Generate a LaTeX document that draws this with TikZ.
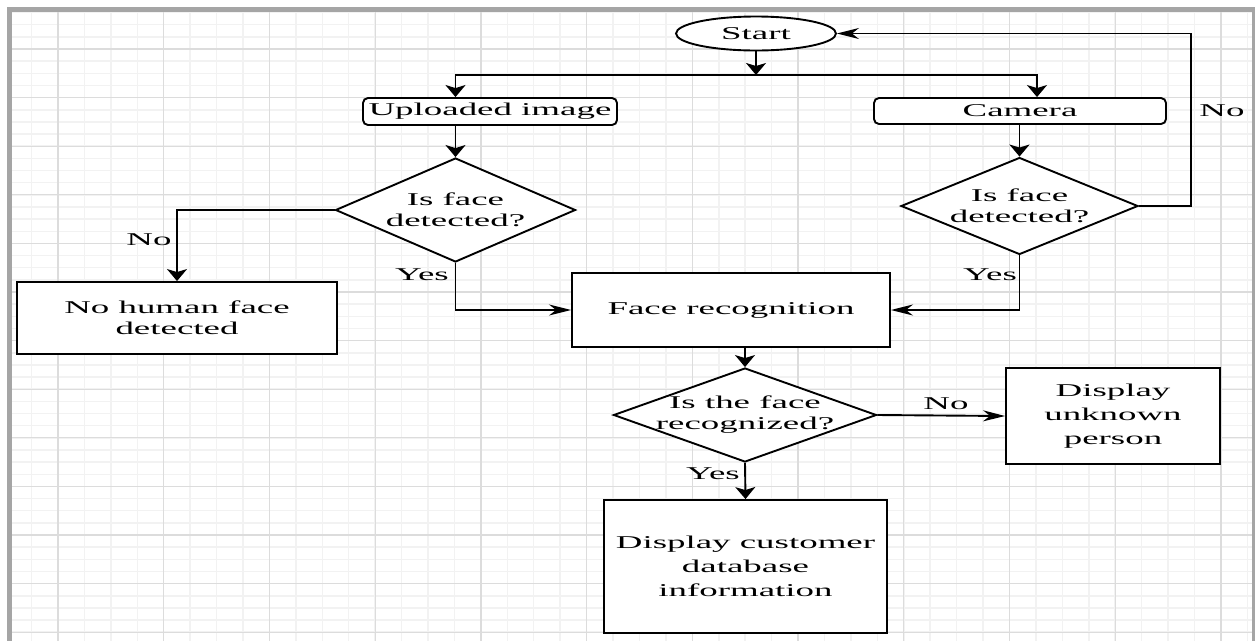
\documentclass[tikz,border=0pt]{standalone}
\usepackage{fontspec}
\setmainfont{Liberation Serif}[FakeStretch=2.05]
\usetikzlibrary{shapes.geometric,arrows.meta}

\definecolor{gridmaj}{HTML}{DCDCDC}
\definecolor{gridmin}{HTML}{F2F2F2}
\definecolor{framegray}{HTML}{A5A5A5}
\newcommand{\chartfont}{\fontsize{18}{21}\selectfont}

\tikzset{
  proc/.style={draw, fill=white, line width=1.9pt, inner sep=0pt, align=center},
  input/.style={proc, rounded corners=5pt},
  decision/.style={diamond, draw, fill=white, line width=1.9pt, inner sep=0pt},
  arrV/.style={line width=1.9pt, -{Stealth[length=12pt,width=20pt,inset=3pt]}},
  arrH/.style={line width=1.9pt, -{Stealth[length=22pt,width=11pt,inset=7pt]}},
  gridminor/.style={draw=gridmin, line width=1.5pt},
  gridmajor/.style={draw=gridmaj, line width=1.3pt}
}

\begin{document}
\begin{tikzpicture}[x=1pt, y=-1pt, font=\chartfont]

\useasboundingbox (0,0) rectangle (1255,641);
\fill[white] (0,0) rectangle (1255,641);

% grid paper
\begin{scope}
\clip (12,12) rectangle (1252,641);
\foreach \i in {-2,...,46} \draw[gridminor] ({58+26.43*\i},0) -- ++(0,641);
\foreach \j in {-4,...,50} \draw[gridminor] (0,{49+12.15*\j}) -- ++(1255,0);
\foreach \i in {0,...,11} \draw[gridmajor] ({58+105.72*\i},0) -- ++(0,641);
\foreach \j in {-1,...,12} \draw[gridmajor] (0,{49+48.6*\j}) -- ++(1255,0);
\end{scope}
\fill[framegray] (7,7) rectangle (1255,12);
\fill[framegray] (7,7) rectangle (12,641);
\fill[framegray] (1252,12) rectangle (1255,641);

% nodes
\node[ellipse, draw, fill=white, line width=1.9pt, inner sep=0pt,
  minimum width=160pt, minimum height=34pt] (start) at (756,33.5) {Start};
\node[input, minimum width=254pt, minimum height=27pt] (upl) at (490,111.5) {Uploaded image};
\node[input, minimum width=292pt, minimum height=26pt] (cam) at (1020,111) {Camera};
\node[decision, minimum width=240pt, minimum height=104pt,
  label={[align=center]center:Is face\\detected?}] (detL) at (455.5,210) {};
\node[decision, minimum width=237pt, minimum height=97pt,
  label={[align=center]center:Is face\\detected?}] (detR) at (1019.5,206) {};
\node[proc, minimum width=320pt, minimum height=72pt] (nohuman) at (177,318) {No human face\\detected};
\node[proc, minimum width=318pt, minimum height=74pt] (facerec) at (731,310) {Face recognition};
\node[decision, minimum width=263pt, minimum height=94pt,
  label={[align=center]center:Is the face\\recognized?}] (recog) at (745,415) {};
\node[proc, minimum width=214pt, minimum height=96pt, font=\fontsize{18}{24}\selectfont]
  (unknown) at (1113,416) {Display\\unknown\\person};
\node[proc, minimum width=283pt, minimum height=133pt, font=\fontsize{18}{24}\selectfont]
  (custinfo) at (745.5,566.5) {Display customer\\database\\information};

\coordinate (split) at (756,75);

% connectors
\draw[arrV] (start.south) -- (split);
\draw[arrV] (split) -| (upl.north -| detL.north);
\draw[arrV] (split) -| ([xshift=17pt]cam.north);
\draw[arrV] (upl.south -| detL.north) -- (detL.north);
\draw[arrV] (cam.south -| detR.north) -- (detR.north);
\draw[arrH] (detR.east) -- ++(52,0) |- (start.east);
\draw[arrV] (detL.west) -| (nohuman.north);
\draw[arrH] (detL.south) |- (facerec.west);
\draw[arrH] (detR.south) |- (facerec.east);
\draw[arrV] (facerec.south -| recog.north) -- (recog.north);
\draw[arrH] (recog.east) -- (unknown.west);
\draw[arrV] (recog.south) -- (custinfo.north);

% branch labels
\node (noLoop) at (1222,111) {No};
\node (noLeft) at (149,240) {No};
\node (yesLeft) at (422,275) {Yes};
\node (yesRight) at (990,275) {Yes};
\node (noRec) at (946,404) {No};
\node (yesRec) at (713,474) {Yes};

\end{tikzpicture}
\end{document}
